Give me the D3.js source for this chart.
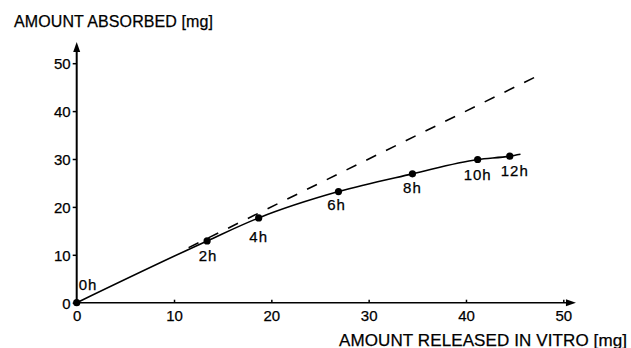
<!DOCTYPE html>
<html><head><meta charset="utf-8">
<script src="https://cdn.jsdelivr.net/npm/d3@7"></script>
<style>body{margin:0;background:#fff}svg{display:block}text{font-family:"Liberation Sans",Arial,sans-serif;fill:#000;stroke:#000;stroke-width:0.25px}</style>
</head><body><svg id="c" width="631" height="348"></svg>
<script>
// Data
const hours = ["0h","2h","4h","6h","8h","10h","12h"];
const released = [0, 13.4, 18.7, 26.9, 34.5, 41.2, 44.5];
const absorbed = [0, 12.9, 17.7, 23.2, 26.9, 29.9, 30.6];
const curveTailX = [45.6];
const curveTailY = [31.0];
const identityLine = [11.5, 48];
const xTicks = [0, 10, 20, 30, 40, 50];
const yTicks = [0, 10, 20, 30, 40, 50];
// label nudges (px)
const labelDx = [2, 1, 0, -2, 0, 0, 5];
const labelDy = [-18, 15, 19, 13, 14, 15, 14];

const svg = d3.select("#c");
const x = d3.scaleLinear().domain([0, 50]).range([76.7, 563.3]);
const y = d3.scaleLinear().domain([0, 50]).range([302.7, 63.2]);

// axes
const xAxis = d3.axisBottom(x).tickValues(xTicks).tickSize(0).tickPadding(8);
const gx = svg.append("g").attr("transform", `translate(0,${y(0)})`).call(xAxis);
gx.select(".domain").remove();
gx.selectAll("text").attr("font-size", 15).style("font-family", "Liberation Sans");
gx.selectAll(".tick").filter(d => d > 0).append("line").attr("y1", 0).attr("y2", -3).attr("stroke", "#000").attr("stroke-width", 1.5);

const yAxis = d3.axisLeft(y).tickValues(yTicks).tickSize(4).tickPadding(2);
const gy = svg.append("g").attr("transform", `translate(${x(0)},0)`).call(yAxis);
gy.select(".domain").remove();
gy.selectAll("line").attr("stroke-width", 1.5);
gy.selectAll("text").attr("font-size", 15).attr("dy", "0.36em").style("font-family", "Liberation Sans");

// axis lines with arrows
svg.append("line").attr("x1", x(0)).attr("x2", x(51.3) - 6).attr("y1", y(0)).attr("y2", y(0))
  .attr("stroke", "#000").attr("stroke-width", 1.6);
svg.append("path").attr("d", `M${x(51.3)},${y(0)} l-10,-3.5 l0,7 z`).attr("fill", "#000");
svg.append("line").attr("x1", x(0)).attr("x2", x(0)).attr("y1", y(0)).attr("y2", y(54.4) + 6)
  .attr("stroke", "#000").attr("stroke-width", 2);
svg.append("path").attr("d", `M${x(0)},${y(54.4)} l-3.5,10 l7,0 z`).attr("fill", "#000");

// dashed identity line
svg.append("line").attr("x1", x(identityLine[0])).attr("y1", y(identityLine[0]))
  .attr("x2", x(identityLine[1])).attr("y2", y(identityLine[1]))
  .attr("stroke", "#000").attr("stroke-width", 1.6).attr("stroke-dasharray", "11,11");

// curve
const pts = released.map((v, i) => [v, absorbed[i]]).concat(curveTailX.map((v, i) => [v, curveTailY[i]]));
const line = d3.line().x(d => x(d[0])).y(d => y(d[1])).curve(d3.curveMonotoneX);
svg.append("path").attr("d", line(pts)).attr("fill", "none").attr("stroke", "#000").attr("stroke-width", 1.6);

// points
svg.selectAll("circle.p").data(released).enter().append("circle")
  .attr("cx", d => x(d)).attr("cy", (d, i) => y(absorbed[i])).attr("r", 3.6).attr("fill", "#000");

// labels
svg.selectAll("text.h").data(hours).enter().append("text")
  .attr("x", (d, i) => x(released[i]) + labelDx[i])
  .attr("y", (d, i) => y(absorbed[i]) + labelDy[i])
  .attr("dy", "0.36em")
  .attr("text-anchor", (d, i) => i === 0 ? "start" : "middle")
  .attr("font-size", 15).attr("letter-spacing", 1)
  .text(d => d);

// titles
svg.append("text").attr("x", 14).attr("y", 26.5).attr("font-size", 16)
  .attr("textLength", 199).attr("lengthAdjust", "spacing").text("AMOUNT ABSORBED [mg]");
svg.append("text").attr("x", 339).attr("y", 345.5).attr("font-size", 17)
  .attr("textLength", 288).attr("lengthAdjust", "spacing").text("AMOUNT RELEASED IN VITRO [mg]");
</script></body></html>
